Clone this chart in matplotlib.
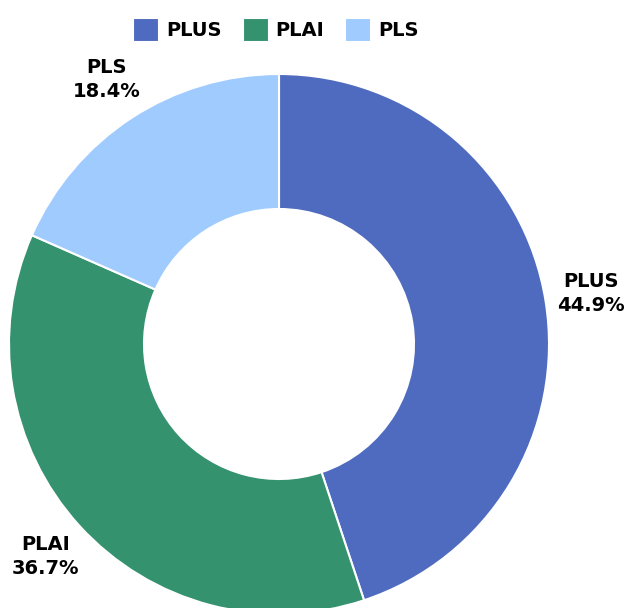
import numpy as np
import matplotlib.pyplot as plt

labels = ['PLUS', 'PLAI', 'PLS']
values = [44.9, 36.7, 18.4]
colors = ['#4f6bbf', '#35926f', '#a0cbff']

plt.rcParams['font.family'] = ['DejaVu Sans']

fig = plt.figure(figsize=(6.27, 6.08), dpi=100)
# pie centre at about (279, 344) px, radius 270 px
ax = fig.add_axes([9 / 627, -6 / 608, 540 / 627, 540 / 608])

wedges, _ = ax.pie(values, colors=colors, startangle=90, counterclock=False,
                   radius=1.0, wedgeprops=dict(width=0.5, edgecolor='white', linewidth=1.5))
ax.set_xlim(-1, 1)
ax.set_ylim(-1, 1)
ax.set_aspect('equal')
ax.axis('off')

# labels outside each slice
for w, lab, v in zip(wedges, labels, values):
    ang = np.deg2rad((w.theta1 + w.theta2) / 2)
    ax.text(1.17 * np.cos(ang), 1.17 * np.sin(ang), f'{lab}\n{v}%',
            ha='center', va='center', fontsize=14, fontweight='bold',
            linespacing=1.35, clip_on=False)

fig.legend(wedges, labels, loc='center', bbox_to_anchor=(276 / 627, 1 - 30 / 608),
           ncol=3, frameon=False, prop=dict(weight='bold', size=14),
           handlelength=1.34, handleheight=1.6, handletextpad=0.36, columnspacing=1.08)

fig.savefig('out.png', dpi=100)
